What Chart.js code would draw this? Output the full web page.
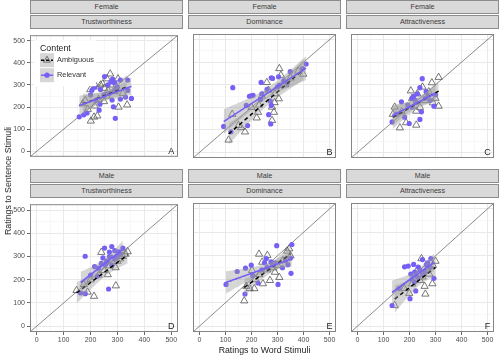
<!DOCTYPE html>
<html><head><meta charset="utf-8">
<script src="https://cdn.jsdelivr.net/npm/chart.js@4.4.1/dist/chart.umd.min.js"></script>
<style>
html,body{margin:0;padding:0;background:#fff;}
#wrap{position:relative;width:500px;height:355px;overflow:hidden;background:#fff;font-family:'Liberation Sans',Arial,sans-serif;}
.strip{position:absolute;box-sizing:border-box;background:#d9d9d9;border:1px solid #8c8c8c;font-size:7.2px;color:#3a3a3a;text-align:center;line-height:12px;}
canvas{position:absolute;}
.atitle{position:absolute;font-size:8.8px;color:#222;white-space:nowrap;line-height:10px;}
</style></head><body><div id="wrap"></div>
<script>
// ---------- labels ----------
const sexLabels = ['Female','Female','Female','Male','Male','Male'];
const traitLabels = ['Trustworthiness','Dominance','Attractiveness','Trustworthiness','Dominance','Attractiveness'];
const panelTags = ['A','B','C','D','E','F'];
const seriesNames = ['Ambiguous','Relevant'];
const legendTitle = 'Content';
const xTitle = 'Ratings to Word Stimuli';
const yTitle = 'Ratings to Sentence Stimuli';
const axisRange = [-25, 525];
const gridValues = [0,50,100,150,200,250,300,350,400,450,500];
const tickValues = [0,100,200,300,400,500];
const tickLabels = ['0','100','200','300','400','500'];

// ---------- data (word rating x, sentence rating y) ----------
const ambX_A = [273,261,302,221,199,237,251,171,336,304,201,213,225,245,275,290,260,230,190,215,320,180,250,265];
const ambY_A = [350,328,328,292,279,300,285,215,210,200,137,155,160,305,300,270,250,235,190,205,262,230,225,275];
const relX_A = [252,282,276,290,311,338,237,205,290,338,352,280,311,235,285,232,187,158,175,292,265,300,250,220,270,215,200,330];
const relY_A = [338,327,314,309,322,322,279,276,275,275,239,232,236,213,201,186,173,156,165,149,300,290,255,230,262,290,255,245];

const ambX_B = [307,313,259,265,305,289,279,286,229,225,220,126,175,112,399,279,150,330,350,240,200,380,160,290];
const ambY_B = [372,342,310,276,238,221,201,178,210,178,153,169,91,55,347,142,120,300,330,250,200,360,110,260];
const relX_B = [128,237,276,304,306,324,337,349,410,396,192,206,199,180,240,276,266,274,185,93,121,272,235,281,300,260];
const relY_B = [287,310,331,335,297,317,306,358,392,372,249,253,251,208,260,208,167,126,119,115,91,228,235,328,290,280];

const ambX_C = [312,286,205,274,312,143,136,187,163,226,226,250,300,230,170,260,210,290,240];
const ambY_C = [333,309,273,269,205,201,169,132,109,121,183,290,240,260,180,230,240,220,200];
const relX_C = [249,240,264,216,210,222,169,193,246,181,199,240,294,133,300,230,260,210,280,150,225,270];
const relY_C = [327,287,269,249,240,232,224,210,180,156,128,146,205,135,256,260,240,200,230,170,220,250];

const ambX_D = [240,293,264,294,213,189,148,338,320,300,270,250,230,200,280,330,175,310];
const ambY_D = [318,252,222,174,129,147,154,321,300,280,260,240,220,200,290,310,180,290];
const relX_D = [180,252,279,270,290,320,246,215,225,267,163,180,279,300,260,310,240,290,200,230,270,255,305];
const relY_D = [301,336,343,319,325,336,294,256,215,160,143,140,263,300,280,310,270,290,220,250,300,265,320];

const ambX_E = [229,261,241,202,172,193,211,244,271,307,337,283,350,320,300,260,230,180,345,215,290];
const ambY_E = [307,302,273,238,108,160,160,181,195,208,320,249,300,280,260,240,220,170,330,200,230];
const relX_E = [102,145,199,177,257,297,275,355,352,302,175,225,319,340,250,280,240,330,205,290,260,350];
const relY_E = [178,233,260,247,288,343,274,348,225,178,137,184,249,262,270,260,240,280,215,270,250,290];

const ambX_F = [246,300,276,258,288,261,199,143,230,270,290,250,210,180,240,220];
const ambY_F = [288,277,222,170,181,137,140,88,240,250,260,210,180,160,195,200];
const relX_F = [181,195,216,234,250,282,205,219,224,202,133,294,270,240,260,210,230,280,250,160,220,265];
const relY_F = [253,256,263,252,284,288,222,188,150,117,88,204,270,240,230,200,210,250,220,160,230,262];

const panelAmbX = [ambX_A, ambX_B, ambX_C, ambX_D, ambX_E, ambX_F];
const panelAmbY = [ambY_A, ambY_B, ambY_C, ambY_D, ambY_E, ambY_F];
const panelRelX = [relX_A, relX_B, relX_C, relX_D, relX_E, relX_F];
const panelRelY = [relY_A, relY_B, relY_C, relY_D, relY_E, relY_F];

// ---------- style / layout ----------
const PURPLE = 'rgb(116,96,246)';
const BAND = 'rgba(153,153,153,0.4)';
const COL_LEFT = [30, 188, 346];
const ROW_TOP = [29, 198];
const PW = 153, PH = 134;
const YAXIS_W = 30, XAXIS_H = 20;
const STRIP_H = 14;

Chart.defaults.font.family = "'Liberation Sans', Arial, sans-serif";

function tQ(df){ const z=1.959964; return z + (z*z*z+z)/4/df + (5*Math.pow(z,5)+16*z*z*z+3*z)/96/df/df; }
function smooth(xs, ys){
  const n = xs.length;
  const mx = xs.reduce((a,b)=>a+b,0)/n, my = ys.reduce((a,b)=>a+b,0)/n;
  let sxx=0, sxy=0;
  for (let i=0;i<n;i++){ const dx=xs[i]-mx; sxx+=dx*dx; sxy+=dx*(ys[i]-my); }
  const b = sxy/sxx, a = my - b*mx;
  let sse=0;
  for (let i=0;i<n;i++){ const r=ys[i]-(a+b*xs[i]); sse+=r*r; }
  const s = Math.sqrt(sse/(n-2)), t = tQ(n-2);
  const lo = Math.min(...xs), hi = Math.max(...xs);
  const fit=[], up=[], dn=[];
  const K = 80;
  for (let k=0;k<=K;k++){
    const x = lo + (hi-lo)*k/K, yh = a + b*x;
    const se = s*Math.sqrt(1/n + (x-mx)*(x-mx)/sxx);
    fit.push({x, y:yh}); up.push({x, y:yh+t*se}); dn.push({x, y:yh-t*se});
  }
  return {fit, up, dn};
}
const pts = (xs, ys) => xs.map((x,i)=>({x, y:ys[i]}));

const wrap = document.getElementById('wrap');
function addDiv(cls, text, css){
  const d = document.createElement('div'); d.className = cls; d.textContent = text;
  Object.assign(d.style, css); wrap.appendChild(d); return d;
}

const panelPlugin = {
  id: 'panelDeco',
  afterDraw(chart){
    const {ctx, chartArea:ca, scales} = chart;
    const o = chart.options.plugins.panelDeco;
    ctx.save();
    ctx.fillStyle = '#1a1a1a';
    ctx.font = "9px 'Liberation Sans', Arial, sans-serif";
    ctx.textAlign = 'center'; ctx.textBaseline = 'middle';
    ctx.fillText(o.tag, scales.x.getPixelForValue(500), scales.y.getPixelForValue(0));
    if (o.legend){
      const lx = ca.left + 4, ly = ca.top + 5;
      ctx.fillStyle = '#fff';
      ctx.fillRect(lx, ly, 62, 46);
      ctx.fillStyle = '#1a1a1a';
      ctx.font = "8.8px 'Liberation Sans', Arial, sans-serif";
      ctx.textAlign = 'left';
      ctx.fillText(legendTitle, lx + 6, ly + 8);
      const keys = [ly + 20, ly + 35];
      keys.forEach((cy, i) => {
        const kx = lx + 6;
        ctx.fillStyle = BAND;
        ctx.fillRect(kx, cy - 7, 14, 14);
        ctx.beginPath();
        ctx.moveTo(kx + 1, cy); ctx.lineTo(kx + 13, cy);
        ctx.lineWidth = 1.5;
        if (i === 0){ ctx.strokeStyle = '#000'; ctx.setLineDash([3,2]); }
        else { ctx.strokeStyle = PURPLE; ctx.setLineDash([]); }
        ctx.stroke(); ctx.setLineDash([]);
        if (i === 0){
          const r = 4;
          ctx.beginPath();
          ctx.moveTo(kx + 7, cy - r);
          ctx.lineTo(kx + 7 + r*0.866, cy + r/2);
          ctx.lineTo(kx + 7 - r*0.866, cy + r/2);
          ctx.closePath();
          ctx.lineWidth = 0.8; ctx.strokeStyle = '#555'; ctx.stroke();
        } else {
          ctx.beginPath(); ctx.arc(kx + 7, cy, 2.6, 0, Math.PI*2);
          ctx.fillStyle = PURPLE; ctx.fill();
        }
        ctx.fillStyle = '#333';
        ctx.font = "7.4px 'Liberation Sans', Arial, sans-serif";
        ctx.fillText(seriesNames[i], kx + 17, cy);
      });
    }
    ctx.strokeStyle = '#858585'; ctx.lineWidth = 1;
    ctx.strokeRect(ca.left + 0.5, ca.top + 0.5, ca.right - ca.left - 1, ca.bottom - ca.top - 1);
    ctx.restore();
  }
};

function gridColor(ctx){ return (ctx.tick && ctx.tick.value % 100 === 0) ? '#e6e6e6' : '#f2f2f2'; }
function gridWidth(ctx){ return (ctx.tick && ctx.tick.value % 100 === 0) ? 0.9 : 0.6; }
function tickCol(ctx){ return (ctx.tick && ctx.tick.value % 100 === 0) ? '#444' : 'rgba(0,0,0,0)'; }
function tickText(v){ const i = tickValues.indexOf(v); return i >= 0 ? tickLabels[i] : ''; }

for (let p = 0; p < 6; p++){
  const r = Math.floor(p/3), c = p % 3;
  const left = COL_LEFT[c], top = ROW_TOP[r];
  addDiv('strip', sexLabels[p], {left: left+'px', top: (top - 2*STRIP_H - 1)+'px', width: PW+'px', height: STRIP_H+'px'});
  addDiv('strip', traitLabels[p], {left: left+'px', top: (top - STRIP_H)+'px', width: PW+'px', height: STRIP_H+'px'});
  const showY = c === 0, showX = r === 1;
  const cv = document.createElement('canvas');
  const cw = PW + (showY ? YAXIS_W : 0), ch = PH + (showX ? XAXIS_H : 0);
  cv.width = cw; cv.height = ch;
  cv.style.left = (left - (showY ? YAXIS_W : 0)) + 'px';
  cv.style.top = top + 'px';
  cv.style.width = cw + 'px'; cv.style.height = ch + 'px';
  wrap.appendChild(cv);

  const amb = smooth(panelAmbX[p], panelAmbY[p]);
  const rel = smooth(panelRelX[p], panelRelY[p]);
  const datasets = [
    {label:'identity', data:[{x:axisRange[0],y:axisRange[0]},{x:axisRange[1],y:axisRange[1]}], borderColor:'#5a5a5a', borderWidth:0.7, pointRadius:0, fill:false},
    {label:seriesNames[0], data:pts(panelAmbX[p], panelAmbY[p]), showLine:false, pointStyle:'triangle', pointRadius:4.2, pointBorderColor:'#555', pointBackgroundColor:'rgba(0,0,0,0)', pointBorderWidth:0.8},
    {label:seriesNames[1], data:pts(panelRelX[p], panelRelY[p]), showLine:false, pointStyle:'circle', pointRadius:2.6, pointBorderWidth:0, pointBackgroundColor:PURPLE, pointBorderColor:PURPLE},
    {label:'ambHi', data:amb.up, fill:'+1', backgroundColor:BAND, borderColor:'rgba(0,0,0,0)', borderWidth:0, pointRadius:0},
    {label:'ambLo', data:amb.dn, fill:false, borderColor:'rgba(0,0,0,0)', borderWidth:0, pointRadius:0},
    {label:'ambFit', data:amb.fit, fill:false, borderColor:'#000', borderWidth:1.5, borderDash:[4,3], pointRadius:0},
    {label:'relHi', data:rel.up, fill:'+1', backgroundColor:BAND, borderColor:'rgba(0,0,0,0)', borderWidth:0, pointRadius:0},
    {label:'relLo', data:rel.dn, fill:false, borderColor:'rgba(0,0,0,0)', borderWidth:0, pointRadius:0},
    {label:'relFit', data:rel.fit, fill:false, borderColor:PURPLE, borderWidth:1.5, pointRadius:0}
  ];
  datasets.forEach((d, i) => { d.order = -i; d.tension = 0; d.pointHoverRadius = 0; });

  new Chart(cv, {
    type: 'line',
    data: {datasets},
    options: {
      responsive:false, animation:false, devicePixelRatio:1, events:[],
      layout:{padding:0},
      plugins:{legend:{display:false}, tooltip:{enabled:false}, panelDeco:{tag:panelTags[p], legend:p===0}},
      scales:{
        x:{type:'linear', min:axisRange[0], max:axisRange[1],
           afterBuildTicks:s=>{ s.ticks = gridValues.map(v=>({value:v})); },
           afterFit:s=>{ s.height = showX ? XAXIS_H : 0; },
           ticks:{display:showX, callback:tickText, autoSkip:false, maxRotation:0, font:{size:7}, color:'#4d4d4d', padding:1},
           grid:{color:gridColor, lineWidth:gridWidth, drawTicks:showX, tickLength:3, tickColor:tickCol, tickWidth:0.8},
           border:{display:false}},
        y:{type:'linear', min:axisRange[0], max:axisRange[1],
           afterBuildTicks:s=>{ s.ticks = gridValues.map(v=>({value:v})); },
           afterFit:s=>{ s.width = showY ? YAXIS_W : 0; },
           ticks:{display:showY, callback:tickText, autoSkip:false, font:{size:7}, color:'#4d4d4d', padding:2},
           grid:{color:gridColor, lineWidth:gridWidth, drawTicks:showY, tickLength:3, tickColor:tickCol, tickWidth:0.8},
           border:{display:false}}
      }
    },
    plugins:[panelPlugin]
  });
}

addDiv('atitle', xTitle, {left: '30px', width: '469px', textAlign:'center', top: '345px'});
addDiv('atitle', yTitle, {left: '8px', top: '181px', transform: 'translate(-50%,-50%) rotate(-90deg)'});
</script></body></html>
